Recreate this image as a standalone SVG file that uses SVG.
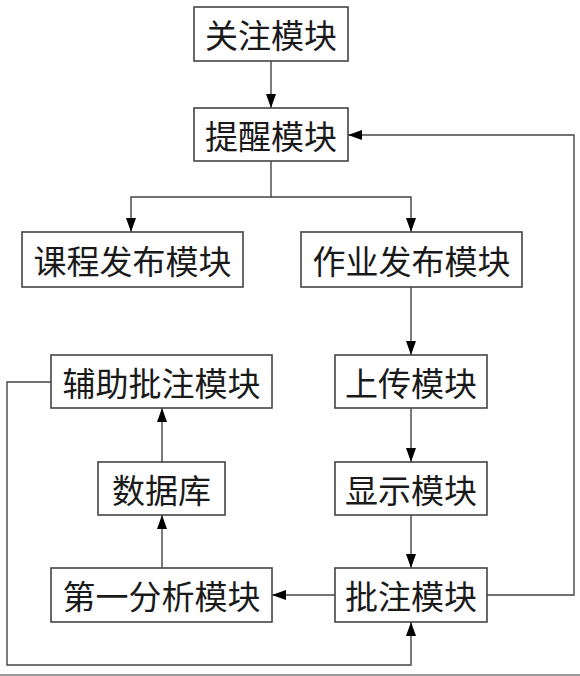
<svg xmlns="http://www.w3.org/2000/svg" width="580" height="676" viewBox="0 0 580 676">
<style>
.box{fill:#fff;stroke:#444;stroke-width:1.6}
.lbl{font-family:"Noto Sans CJK SC","Noto Sans",sans-serif;font-size:33px;font-weight:400;fill:#1a1a1a;text-anchor:middle;dominant-baseline:central}
.c{fill:none;stroke:#444;stroke-width:1.4}
</style>
<defs>
<marker id="ah" viewBox="0 0 14 10" refX="14" refY="5" markerWidth="14" markerHeight="10" markerUnits="userSpaceOnUse" orient="auto">
<path d="M0,0 L14,5 L0,10 Z" fill="#000"/>
</marker>
</defs>
<rect width="580" height="676" fill="#fff"/>
<g id="connectors">
<path class="c" d="M271,61 V108" marker-end="url(#ah)"/>
<path class="c" d="M271,161 V197 H131 V232" marker-end="url(#ah)"/>
<path class="c" d="M271,197 H411 V232" marker-end="url(#ah)"/>
<path class="c" d="M411,287 V355" marker-end="url(#ah)"/>
<path class="c" d="M411,408 V462" marker-end="url(#ah)"/>
<path class="c" d="M411,515 V568" marker-end="url(#ah)"/>
<path class="c" d="M335,595 H272" marker-end="url(#ah)"/>
<path class="c" d="M162,568 V515" marker-end="url(#ah)"/>
<path class="c" d="M162,462 V408" marker-end="url(#ah)"/>
<path class="c" d="M51,382 H7 V665 H411 V622" marker-end="url(#ah)"/>
<path class="c" d="M487,595 H574 V135 H348" marker-end="url(#ah)"/>
</g>
<g id="guanzhu"><rect class="box" x="194" y="7" width="154" height="54"/><text class="lbl" x="271" y="34">关注模块</text></g>
<g id="tixing"><rect class="box" x="194" y="108" width="154" height="53"/><text class="lbl" x="271" y="134.5">提醒模块</text></g>
<g id="kecheng"><rect class="box" x="22" y="232" width="221" height="55"/><text class="lbl" x="132.5" y="259.5">课程发布模块</text></g>
<g id="zuoye"><rect class="box" x="301" y="232" width="221" height="55"/><text class="lbl" x="411.5" y="259.5">作业发布模块</text></g>
<g id="fuzhu"><rect class="box" x="51" y="355" width="221" height="53"/><text class="lbl" x="161.5" y="381.5">辅助批注模块</text></g>
<g id="shangchuan"><rect class="box" x="335" y="355" width="152" height="53"/><text class="lbl" x="411" y="381.5">上传模块</text></g>
<g id="shujuku"><rect class="box" x="98" y="462" width="127" height="53"/><text class="lbl" x="161.5" y="488.5">数据库</text></g>
<g id="xianshi"><rect class="box" x="335" y="462" width="152" height="53"/><text class="lbl" x="411" y="488.5">显示模块</text></g>
<g id="fenxi"><rect class="box" x="51" y="568" width="221" height="54"/><text class="lbl" x="161.5" y="595">第一分析模块</text></g>
<g id="pizhu"><rect class="box" x="335" y="568" width="152" height="54"/><text class="lbl" x="411" y="595">批注模块</text></g>
<line x1="0" y1="675" x2="580" y2="675" stroke="#777" stroke-width="1.5"/>
</svg>
